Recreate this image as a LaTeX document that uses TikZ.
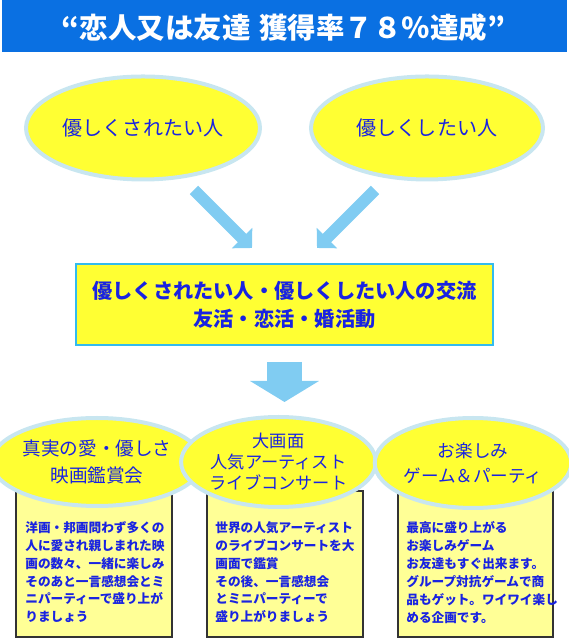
\documentclass[tikz,border=0pt]{standalone}
\usepackage{fontspec}
\setmainfont{Noto Sans CJK JP}
\usepackage{tikz}
\usetikzlibrary{arrows.meta,shapes.geometric,positioning}
\usepackage{xcolor}
\definecolor{barblue}{RGB}{10,112,226}
\definecolor{sunny}{RGB}{255,255,51}
\definecolor{pale}{RGB}{255,255,150}
\definecolor{rim}{RGB}{200,230,240}
\definecolor{frame}{RGB}{51,187,238}
\definecolor{flow}{RGB}{128,204,242}
\definecolor{ink}{RGB}{25,35,225}

\begin{document}
\begin{tikzpicture}[oval/.style={ellipse, draw=rim, line width=0.08cm, fill=sunny, text=ink, inner sep=0pt, align=center},
  panel/.style={rectangle, draw=black!80, line width=0.04cm, fill=pale, anchor=north west},
  note/.style={text=ink, align=left, inner sep=0pt, font=\fontsize{7.2}{10.2}\selectfont\bfseries},
  flowarrow/.style={draw=flow, line width=0.24cm, -{Triangle[width=0.56cm,length=0.28cm]}}]

\useasboundingbox (0,0) rectangle (11.38,12.88);

\fill [barblue] (0.04,11.84) rectangle (11.34,12.88);
\node [text=white, font=\fontsize{16.2}{18}\selectfont\bfseries] (title) at (5.67,12.33) {“恋人又は友達\hspace{0.3em}獲得率７８％達成”};

\node [oval, minimum width=4.68cm, minimum height=2.06cm, font=\fontsize{11.4}{14}\selectfont] (want) at (2.86,10.32) {優しくされたい人};
\node [oval, minimum width=4.64cm, minimum height=2.06cm, font=\fontsize{11.4}{14}\selectfont] (give) at (8.54,10.32) {優しくしたい人};

\coordinate (want_s) at (3.88,9.08);
\coordinate (want_e) at (5.04,7.92);
\coordinate (give_s) at (7.5,9.08);
\coordinate (give_e) at (6.34,7.92);
\draw [flowarrow] (want_s) -- (want_e);
\draw [flowarrow] (give_s) -- (give_e);

\node [rectangle, draw=frame, line width=0.04cm, fill=sunny, text=ink, align=center, minimum width=8.34cm, minimum height=1.62cm, font=\fontsize{11.5}{15.9}\selectfont\bfseries] (meet) at (5.69,6.79) {優しくされたい人・優しくしたい人の交流\\友活・恋活・婚活動};

\coordinate (down_s) at (5.69,5.64);
\coordinate (down_e) at (5.69,4.84);
\draw [draw=flow, line width=0.7cm, -{Triangle[width=1.36cm,length=0.42cm]}] (down_s) -- (down_e);

\node [panel, minimum width=3.12cm, minimum height=2.92cm] (boxA) at (0.3,3.08) {};
\node [panel, minimum width=3.12cm, minimum height=2.92cm] (boxB) at (4.12,3.08) {};
\node [panel, minimum width=3.10cm, minimum height=2.92cm] (boxC) at (7.94,3.08) {};

\node [oval, minimum width=3.72cm, minimum height=1.76cm, font=\fontsize{10.6}{15.3}\selectfont] (movie) at (1.94,3.64) {真実の愛・優しさ\\映画鑑賞会};
\node [oval, minimum width=3.38cm, minimum height=1.8cm, font=\fontsize{9.8}{11.9}\selectfont] (live) at (5.57,3.64) {大画面\\人気アーティスト\\ライブコンサート};
\node [oval, minimum width=3.56cm, minimum height=1.8cm, font=\fontsize{10}{14.2}\selectfont] (game) at (9.46,3.62) {お楽しみ\\ゲーム＆パーティ};

\node [note, below right=0.62cm and 0.2cm of boxA.north west] (txtA) {洋画・邦画問わず多くの\\人に愛され親しまれた映\\画の数々、一緒に楽しみ\\そのあと一言感想会とミ\\ニパーティーで盛り上が\\りましょう};
\node [note, below right=0.62cm and 0.18cm of boxB.north west] (txtB) {世界の人気アーティスト\\のライブコンサートを大\\画面で鑑賞\\その後、一言感想会\\とミニパーティーで\\盛り上がりましょう};
\node [note, below right=0.62cm and 0.18cm of boxC.north west] (txtC) {最高に盛り上がる\\お楽しみゲーム\\お友達もすぐ出来ます。\\グループ対抗ゲームで商\\品もゲット。ワイワイ楽し\\める企画です。};

\end{tikzpicture}
\end{document}
